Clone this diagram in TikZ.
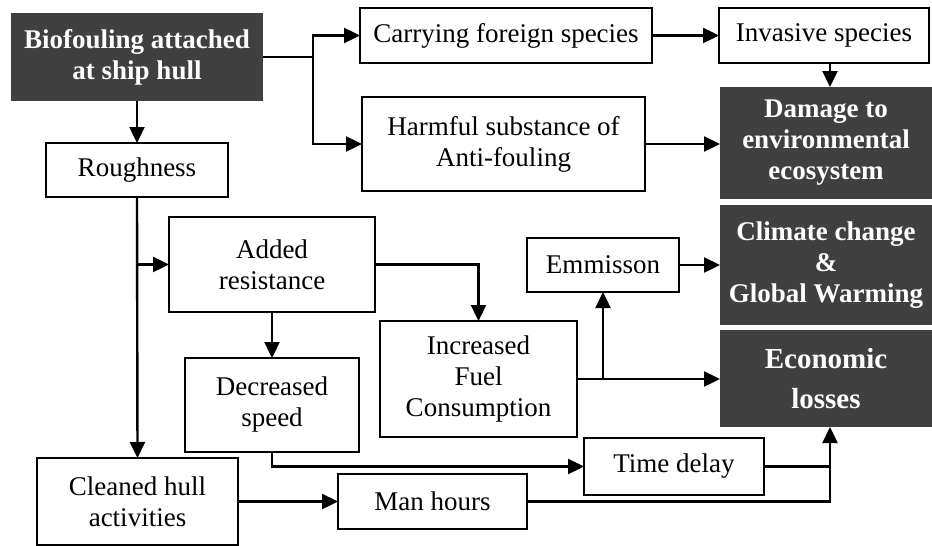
\documentclass[tikz,border=0pt]{standalone}
\usepackage{fontspec}
\setmainfont{Liberation Serif}
\usetikzlibrary{arrows.meta,calc}
\definecolor{darkbox}{RGB}{64,64,64}
\begin{document}
\begin{tikzpicture}[x=1pt,y=-1pt,
  box/.style={draw,line width=2.4pt,inner sep=0pt,outer sep=0pt,align=center,font=\fontsize{27}{31}\selectfont},
  dbox/.style={fill=darkbox,text=white,inner sep=0pt,outer sep=0pt,align=center,font=\fontsize{27}{31}\selectfont\bfseries},
  arr/.style={line width=2.4pt,-{Triangle[length=16pt,width=15pt]}},
  ln/.style={line width=2.4pt}]
\useasboundingbox[fill=white] (0,0) rectangle (932,546);
% nodes
\node[dbox,minimum width=252pt,minimum height=88pt] (bio) at (137,57) {Biofouling attached\\at ship hull};
\node[box,minimum width=182pt,minimum height=54pt] (rough) at (137,170) {Roughness};
\node[box,minimum width=292pt,minimum height=55pt] (carry) at (506,35.5) {Carrying foreign species};
\node[box,minimum width=210pt,minimum height=55pt] (inv) at (824,35.5) {Invasive species};
\node[box,minimum width=283pt,minimum height=94pt] (harm) at (503.5,144) {Harmful substance of\\Anti-fouling};
\node[dbox,minimum width=212pt,minimum height=112pt] (dmg) at (826,143) {Damage to\\environmental\\ecosystem};
\node[dbox,minimum width=212pt,minimum height=120pt] (clim) at (826,265) {Climate change\\\&\\Global Warming};
\node[dbox,minimum width=212pt,minimum height=97pt,font=\fontsize{29}{40}\selectfont\bfseries] (econ) at (826,378.5) {Economic\\losses};
\node[box,minimum width=206pt,minimum height=95pt] (added) at (272,264.5) {Added\\resistance};
\node[box,minimum width=174pt,minimum height=94pt] (dec) at (272,405) {Decreased\\speed};
\node[box,minimum width=197pt,minimum height=116pt] (inc) at (478.5,379) {Increased\\Fuel\\Consumption};
\node[box,minimum width=152pt,minimum height=54pt] (emm) at (603,265) {Emmisson};
\node[box,minimum width=180pt,minimum height=57pt] (time) at (674,466.5) {Time delay};
\node[box,minimum width=189pt,minimum height=55pt] (man) at (432.5,501.5) {Man hours};
\node[box,minimum width=201pt,minimum height=87pt] (clean) at (137.5,501.5) {Cleaned hull\\activities};
% junctions
\coordinate (br) at ($(bio.east)+(50,0)$);
\coordinate (ej) at ($(econ.south)+(4,0)$);
\coordinate (ij) at ($(inv.south)+(6,0)$);
% connectors
\draw[ln] (bio.east) -- (br);
\draw[arr] (br) |- (carry.west);
\draw[arr] (br) |- (harm.west);
\draw[arr] (bio.south) -- (rough.north);
\draw[arr] (carry.east) -- (inv.west);
\draw[arr] (ij) -- (ij |- dmg.north);
\draw[arr] (harm.east) -- (harm.east -| dmg.west);
\draw[arr] (rough.south) -- (clean.north);
\draw[arr] (rough.south |- added.west) -- (added.west);
\draw[arr] (added.south) -- (dec.north);
\draw[arr] (added.east) -| (inc.north);
\draw[arr] (inc.east) -- (inc.east -| econ.west);
\draw[arr] (inc.east -| emm.south) -- (emm.south);
\draw[arr] (emm.east) -- (clim.west);
\draw[arr] (dec.south) |- (time.west);
\draw[arr] (clean.east) -- (man.west);
\draw[ln] (time.east) -- (time.east -| ej);
\draw[arr] (man.east) -| (ej);
\end{tikzpicture}
\end{document}
